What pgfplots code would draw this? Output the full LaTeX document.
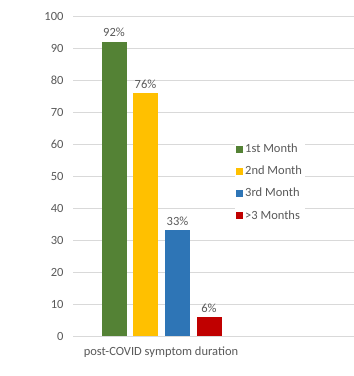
\documentclass[border=0pt]{standalone}
\usepackage{fontspec}
\setmainfont{Carlito}
\usepackage{pgfplots}
\pgfplotsset{compat=1.18}
\definecolor{cgreen}{HTML}{548235}
\definecolor{cyellow}{HTML}{FFC000}
\definecolor{cblue}{HTML}{2E75B6}
\definecolor{cred}{HTML}{C00000}
\definecolor{ctext}{HTML}{595959}
\definecolor{cgrid}{HTML}{D9D9D9}
\begin{document}
\begin{tikzpicture}
\begin{axis}[
  at={(0,0)}, anchor=south west,
  scale only axis, width=281bp, height=320bp,
  xmin=0, xmax=281, ymin=0, ymax=100,
  ytick={0,10,...,100},
  xtick={88}, xticklabels={post-COVID symptom duration},
  major tick length=0pt,
  axis line style={draw=none},
  ymajorgrids, grid style={cgrid, line width=0.8bp},
  tick label style={font=\fontsize{12.5bp}{14bp}\selectfont, text=ctext},
  /pgf/number format/assume math mode=true,
  yticklabel style={xshift=-6bp},
  xticklabel style={yshift=-7bp},
  nodes near coords={\pgfmathprintnumber{\pgfplotspointmeta}\%},
  every node near coord/.append style={font=\fontsize{12.5bp}{14bp}\selectfont, text=ctext, yshift=1bp},
  legend style={at={(axis cs:162,61)}, anchor=north west, draw=none, fill=white,
    font=\fontsize{12.5bp}{14bp}\selectfont, text=ctext, row sep=8bp, inner sep=1bp},
  legend cell align=left,
  legend image code/.code={\fill[#1] (0bp,-3.5bp) rectangle (7bp,3.5bp);},
]
\addplot[ybar, bar width=25bp, bar shift=0pt, fill=cgreen, draw=none] coordinates {(41,92)};
\addlegendentry{1st Month}
\addplot[ybar, bar width=25bp, bar shift=0pt, fill=cyellow, draw=none] coordinates {(72.5,76)};
\addlegendentry{2nd Month}
\addplot[ybar, bar width=25bp, bar shift=0pt, fill=cblue, draw=none] coordinates {(104.5,33)};
\addlegendentry{3rd Month}
\addplot[ybar, bar width=25bp, bar shift=0pt, fill=cred, draw=none] coordinates {(136,6)};
\addlegendentry{>3 Months}
\end{axis}
\pgfresetboundingbox
\path (-73bp,-40bp) rectangle (281bp,336bp);
\end{tikzpicture}
\end{document}
